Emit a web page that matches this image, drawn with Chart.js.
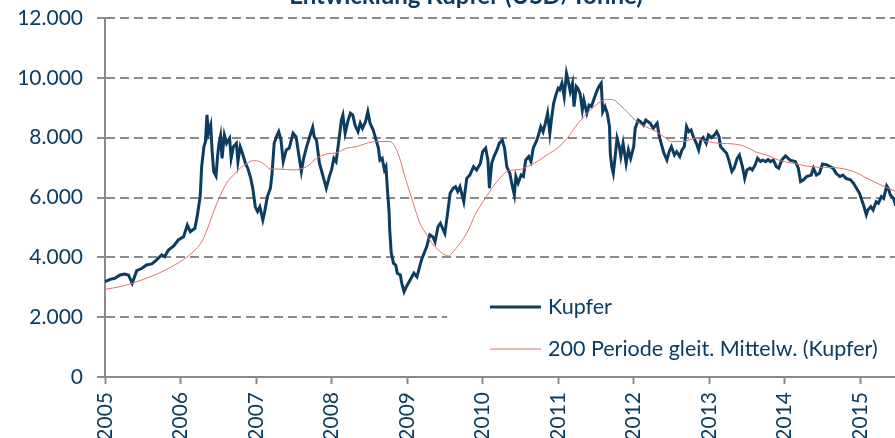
<!DOCTYPE html>
<html lang="de">
<head>
<meta charset="utf-8">
<title>Entwicklung Kupfer (USD/Tonne)</title>
<script src="https://cdn.jsdelivr.net/npm/chart.js@4/dist/chart.umd.min.js"></script>
<style>
  html, body { margin: 0; padding: 0; background: #fff; }
  #wrap { position: relative; width: 895px; height: 438px; overflow: hidden; }
</style>
</head>
<body>
<div id="wrap"><canvas id="chart"></canvas></div>
<script>
// --- DATA ---
const TITLE = 'Entwicklung Kupfer (USD/Tonne)';
const SERIES_LABELS = ['Kupfer', '200 Periode gleit. Mittelw. (Kupfer)'];
const X_MIN = 2005;
const X_MAX = 2015.46;
const Y_TICKS = [0, 2000, 4000, 6000, 8000, 10000, 12000];
const YEAR_TICKS = [2005, 2006, 2007, 2008, 2009, 2010, 2011, 2012, 2013, 2014, 2015];

// Kupfer price (USD/t), date as decimal year
const kupferJahr = [
  2005.00, 2005.07, 2005.13, 2005.20, 2005.26, 2005.31, 2005.36, 2005.42, 2005.49, 2005.55,
  2005.62, 2005.68, 2005.75, 2005.79, 2005.84, 2005.91, 2005.97, 2006.04, 2006.09, 2006.13,
  2006.19, 2006.22, 2006.26, 2006.28, 2006.31, 2006.33, 2006.35, 2006.37, 2006.40, 2006.42,
  2006.44, 2006.47, 2006.49, 2006.51, 2006.53, 2006.55, 2006.58, 2006.61, 2006.65, 2006.67,
  2006.70, 2006.74, 2006.76, 2006.79, 2006.82, 2006.86, 2006.89, 2006.93, 2006.96, 2006.99,
  2007.02, 2007.05, 2007.09, 2007.11, 2007.15, 2007.19, 2007.21, 2007.24, 2007.27, 2007.30,
  2007.33, 2007.36, 2007.40, 2007.44, 2007.49, 2007.53, 2007.56, 2007.60, 2007.63, 2007.67,
  2007.71, 2007.75, 2007.77, 2007.80, 2007.84, 2007.87, 2007.90, 2007.93, 2007.97, 2008.00,
  2008.03, 2008.06, 2008.10, 2008.13, 2008.15, 2008.18, 2008.22, 2008.25, 2008.28, 2008.31,
  2008.35, 2008.38, 2008.41, 2008.45, 2008.48, 2008.51, 2008.55, 2008.59, 2008.62, 2008.64,
  2008.67, 2008.70, 2008.72, 2008.74, 2008.76, 2008.77, 2008.79, 2008.82, 2008.85, 2008.87,
  2008.91, 2008.93, 2008.96, 2008.99, 2009.04, 2009.09, 2009.13, 2009.19, 2009.26, 2009.30,
  2009.34, 2009.37, 2009.41, 2009.44, 2009.48, 2009.50, 2009.53, 2009.57, 2009.61, 2009.64,
  2009.67, 2009.70, 2009.75, 2009.79, 2009.83, 2009.88, 2009.92, 2009.97, 2010.00, 2010.04,
  2010.07, 2010.09, 2010.12, 2010.15, 2010.19, 2010.22, 2010.26, 2010.29, 2010.32, 2010.36,
  2010.39, 2010.42, 2010.44, 2010.47, 2010.51, 2010.54, 2010.57, 2010.61, 2010.64, 2010.67,
  2010.71, 2010.74, 2010.77, 2010.80, 2010.83, 2010.86, 2010.89, 2010.91, 2010.94, 2010.97,
  2011.00, 2011.02, 2011.05, 2011.08, 2011.11, 2011.13, 2011.16, 2011.19, 2011.21, 2011.24,
  2011.26, 2011.29, 2011.32, 2011.34, 2011.38, 2011.41, 2011.44, 2011.47, 2011.51, 2011.54,
  2011.57, 2011.59, 2011.62, 2011.65, 2011.68, 2011.69, 2011.71, 2011.73, 2011.76, 2011.78,
  2011.81, 2011.83, 2011.86, 2011.90, 2011.93, 2011.96, 2012.00, 2012.02, 2012.06, 2012.09,
  2012.13, 2012.16, 2012.22, 2012.26, 2012.31, 2012.34, 2012.37, 2012.40, 2012.44, 2012.47,
  2012.50, 2012.54, 2012.57, 2012.61, 2012.64, 2012.67, 2012.70, 2012.73, 2012.76, 2012.79,
  2012.83, 2012.86, 2012.89, 2012.92, 2012.96, 2012.99, 2013.03, 2013.07, 2013.10, 2013.13,
  2013.15, 2013.19, 2013.23, 2013.26, 2013.30, 2013.33, 2013.37, 2013.40, 2013.44, 2013.47,
  2013.50, 2013.54, 2013.57, 2013.61, 2013.64, 2013.68, 2013.71, 2013.75, 2013.78, 2013.81,
  2013.85, 2013.89, 2013.92, 2013.96, 2014.01, 2014.07, 2014.14, 2014.18, 2014.21, 2014.25,
  2014.29, 2014.35, 2014.38, 2014.42, 2014.46, 2014.50, 2014.56, 2014.60, 2014.64, 2014.68,
  2014.73, 2014.77, 2014.81, 2014.87, 2014.91, 2014.95, 2014.99, 2015.02, 2015.05, 2015.08,
  2015.10, 2015.14, 2015.17, 2015.21, 2015.24, 2015.28, 2015.31, 2015.35, 2015.37, 2015.40,
  2015.44, 2015.47
];
const kupferWert = [
  3190, 3265, 3300, 3410, 3445, 3410, 3130, 3555, 3635, 3745,
  3780, 3910, 4080, 4020, 4245, 4380, 4580, 4690, 5080, 4860,
  4970, 5360, 6030, 7030, 7700, 7870, 8760, 8150, 8420, 7480,
  6860, 6720, 7370, 7810, 8060, 7310, 8090, 7810, 7980, 7310,
  7700, 7810, 7200, 7700, 7480, 7140, 6980, 6640, 6250, 5690,
  5530, 5690, 5250, 5470, 6030, 6310, 6750, 7810, 8030, 8200,
  7920, 7200, 7590, 7650, 8150, 8030, 7530, 6870, 7310, 7700,
  8030, 8350, 8030, 7920, 7140, 6870, 6590, 6310, 6700, 6920,
  7310, 7200, 7980, 8590, 8760, 8150, 8590, 8820, 8760, 8420,
  8200, 8480, 8310, 8540, 8870, 8480, 8260, 7920, 7650, 7250,
  7310, 6920, 7030, 6250, 5580, 4910, 4140, 3800, 3740, 3470,
  3410, 3130, 2850, 3020, 3240, 3470, 3350, 3910, 4360, 4750,
  4690, 4520, 5030, 5140, 4910, 4800, 5360, 6140, 6310, 6360,
  6200, 6360, 5860, 6640, 6750, 7030, 6920, 7140, 7530, 7650,
  7250, 6310, 7140, 7370, 7590, 7810, 7920, 7650, 7030, 6810,
  6420, 6080, 6700, 6480, 6750, 6700, 7250, 7370, 7200, 7650,
  7870, 8090, 8370, 8200, 8480, 8820, 8150, 8590, 9150, 9430,
  9650, 9600, 9820, 9370, 10150, 9930, 9540, 9820, 9040, 9710,
  9650, 9480, 8930, 9260, 8820, 9090, 9040, 9260, 9540, 9710,
  9820, 8870, 9040, 8820, 8370, 7480, 7030, 6810, 7480, 7980,
  7700, 7370, 7810, 7140, 7590, 7310, 7700, 8310, 8590, 8540,
  8420, 8590, 8480, 8310, 8480, 8030, 7760, 7480, 7250, 7530,
  7700, 7420, 7530, 7370, 7590, 7700, 8370, 8200, 8260, 8030,
  7810, 7590, 7920, 8000, 7810, 8090, 8000, 8090, 8200, 8030,
  7700, 7590, 7480, 7250, 6870, 6980, 7310, 7420, 7030, 6640,
  6920, 6980, 6920, 7090, 7310, 7200, 7250, 7200, 7270, 7200,
  7250, 7030, 6980, 7250, 7390, 7250, 7200, 6980, 6530, 6590,
  6700, 6750, 6980, 6750, 6810, 7120, 7090, 7030, 6980, 6810,
  6700, 6750, 6640, 6590, 6480, 6310, 6140, 5920, 5690, 5420,
  5580, 5690, 5580, 5860, 5810, 6030, 5970, 6390, 6310, 6080,
  5970, 5720
];

// 200-period moving average
const mittelJahr = [
  2005.00, 2005.20, 2005.38, 2005.60, 2005.82, 2006.04, 2006.17, 2006.28, 2006.35, 2006.43,
  2006.52, 2006.61, 2006.70, 2006.79, 2006.88, 2006.96, 2007.05, 2007.12, 2007.19, 2007.32,
  2007.49, 2007.67, 2007.80, 2007.93, 2008.07, 2008.20, 2008.33, 2008.46, 2008.59, 2008.77,
  2008.84, 2008.91, 2008.97, 2009.04, 2009.11, 2009.17, 2009.26, 2009.35, 2009.44, 2009.50,
  2009.55, 2009.61, 2009.70, 2009.81, 2009.90, 2010.05, 2010.19, 2010.32, 2010.41, 2010.50,
  2010.59, 2010.72, 2010.85, 2010.99, 2011.12, 2011.23, 2011.34, 2011.45, 2011.56, 2011.65,
  2011.71, 2011.82, 2011.93, 2012.04, 2012.13, 2012.26, 2012.40, 2012.50, 2012.66, 2012.81,
  2012.97, 2013.14, 2013.32, 2013.48, 2013.61, 2013.76, 2013.94, 2014.12, 2014.29, 2014.47,
  2014.65, 2014.91, 2015.09, 2015.27, 2015.47
];
const mittelWert = [
  2930, 3020, 3150, 3350, 3600, 3930, 4190, 4520, 4910, 5470,
  6030, 6480, 6750, 6980, 7140, 7230, 7200, 7090, 6950, 6950,
  6920, 7030, 7310, 7450, 7500, 7650, 7700, 7810, 7870, 7870,
  7700, 7250, 6700, 6140, 5580, 5140, 4750, 4410, 4190, 4080,
  4045, 4190, 4470, 4910, 5420, 6030, 6530, 6870, 6920, 6940,
  7030, 7200, 7420, 7650, 7980, 8370, 8700, 8980, 9200, 9280,
  9280, 9090, 8820, 8540, 8390, 8260, 8030, 7870, 7870, 7980,
  7870, 7810, 7790, 7700, 7530, 7420, 7230, 7140, 7050, 7010,
  7000, 6870, 6640, 6420, 6200
];

// --- STYLE ---
const NAVY = '#0c3d60';
const RED = '#e4716f';
const GRID = '#8a8a8a';
const FONT = 'Lato, "Open Sans", sans-serif';

function toPoints(xs, ys) {
  return xs.map((x, i) => ({ x: x, y: ys[i] }));
}

// Title (cut off at the top) and the white legend box inside the plot
const overlayPlugin = {
  id: 'overlay',
  afterDraw(chart) {
    const ctx = chart.ctx;
    ctx.save();
    ctx.fillStyle = NAVY;
    ctx.font = 'bold 24px ' + FONT;
    ctx.textAlign = 'center';
    ctx.textBaseline = 'alphabetic';
    ctx.fillText(TITLE, 466, 4);

    // legend box
    ctx.fillStyle = '#ffffff';
    ctx.fillRect(447, 286, 448, 86);
    const rows = [307, 349];
    chart.data.datasets.forEach((ds, i) => {
      const y = rows[i];
      ctx.strokeStyle = ds.borderColor;
      ctx.lineWidth = i === 0 ? 3 : 1;
      ctx.beginPath();
      ctx.moveTo(490, y);
      ctx.lineTo(541, y);
      ctx.stroke();
      ctx.fillStyle = NAVY;
      ctx.font = '21.5px ' + FONT;
      ctx.textAlign = 'left';
      ctx.textBaseline = 'middle';
      ctx.fillText(ds.label, 548, y);
    });
    ctx.restore();
  }
};

const ctx = document.getElementById('chart').getContext('2d');
const myChart = new Chart(ctx, {
  type: 'line',
  data: {
    datasets: [
      {
        label: SERIES_LABELS[0],
        data: toPoints(kupferJahr, kupferWert),
        borderColor: NAVY,
        borderWidth: 3,
        pointRadius: 0,
        tension: 0,
        order: 2
      },
      {
        label: SERIES_LABELS[1],
        data: toPoints(mittelJahr, mittelWert),
        borderColor: RED,
        borderWidth: 1,
        pointRadius: 0,
        cubicInterpolationMode: 'monotone',
        order: 1
      }
    ]
  },
  options: {
    responsive: true,
    maintainAspectRatio: false,
    animation: false,
    layout: { padding: { top: 18, right: 0, left: 0, bottom: 0 } },
    plugins: {
      legend: { display: false },
      title: { display: false },
      tooltip: { enabled: false }
    },
    scales: {
      x: {
        type: 'linear',
        min: X_MIN,
        max: X_MAX,
        afterBuildTicks: (scale) => { scale.ticks = YEAR_TICKS.map(v => ({ value: v })); },
        afterFit: (scale) => { scale.height = 61; scale.paddingRight = 0; scale.paddingLeft = 0; },
        ticks: {
          color: NAVY,
          font: { family: FONT, size: 21 },
          minRotation: 90,
          maxRotation: 90,
          padding: 8,
          callback: (v) => String(v)
        },
        grid: {
          drawOnChartArea: false,
          drawTicks: true,
          tickLength: 7,
          tickColor: GRID,
          tickWidth: 2
        },
        border: { display: true, color: GRID, width: 2 }
      },
      y: {
        min: 0,
        max: 12000,
        afterBuildTicks: (scale) => { scale.ticks = Y_TICKS.map(v => ({ value: v })); },
        afterFit: (scale) => { scale.width = 105; scale.paddingTop = 0; scale.paddingBottom = 0; },
        ticks: {
          color: NAVY,
          font: { family: FONT, size: 21 },
          padding: 14,
          callback: (v) => v.toLocaleString('de-DE')
        },
        grid: {
          color: GRID,
          lineWidth: 2,
          tickLength: 8,
          tickColor: GRID,
          tickWidth: 2,
          tickBorderDash: []
        },
        border: { display: true, color: GRID, width: 2, dash: [9, 5] }
      }
    }
  },
  plugins: [overlayPlugin]
});
</script>
</body>
</html>
